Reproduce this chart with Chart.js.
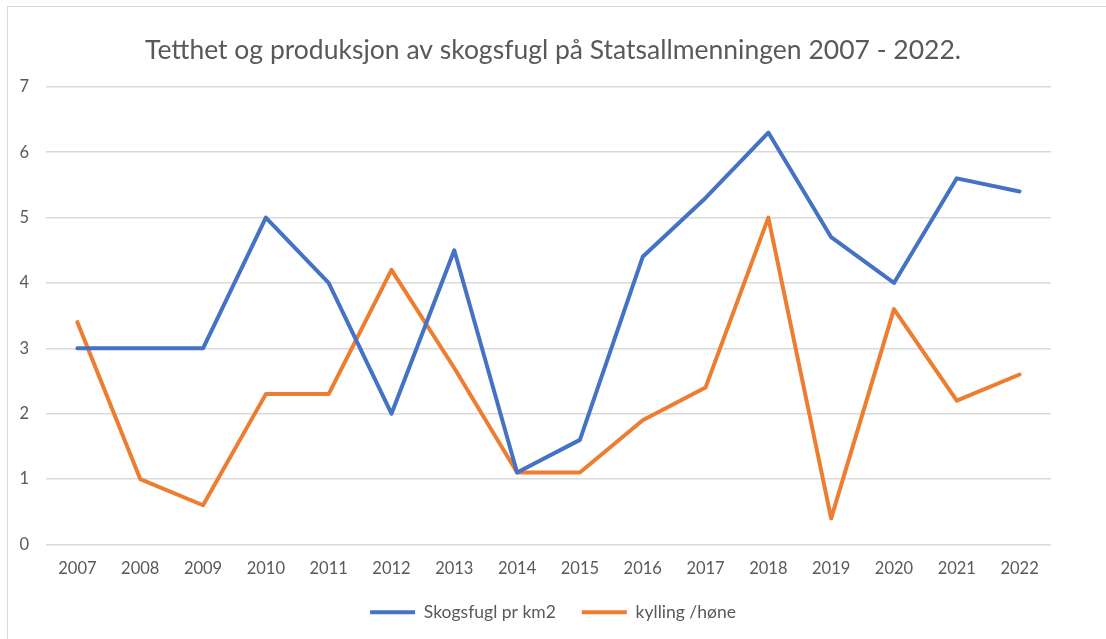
<!DOCTYPE html>
<html>
<head>
<meta charset="utf-8">
<script src="https://cdn.jsdelivr.net/npm/chart.js@4"></script>
<style>
  html, body { margin: 0; padding: 0; background: #fff; overflow: hidden; }
  #wrap { position: relative; width: 1106px; height: 639px; }
  #frame { position: absolute; left: 7px; top: 6px; width: 1120px; height: 660px; border: 1px solid #d9d9d9; }
  canvas { position: absolute; left: 0; top: 0; }
</style>
</head>
<body>
<div id="wrap">
  <div id="frame"></div>
  <canvas id="myChart" width="1106" height="639"></canvas>
</div>
<script>
// Kategorier (år) og verdier
const years = ['2007', '2008', '2009', '2010', '2011', '2012', '2013', '2014',
  '2015', '2016', '2017', '2018', '2019', '2020', '2021', '2022']
const skogsfugl = [3, 3, 3, 5, 4, 2, 4.5, 1.1, 1.6, 4.4, 5.3, 6.3, 4.7, 4.0, 5.6, 5.4]
const kylling = [3.4, 1.0, 0.6, 2.3, 2.3, 4.2, 2.7, 1.1, 1.1, 1.9, 2.4, 5.0, 0.4, 3.6, 2.2, 2.6]
const yTicks = [0, 1, 2, 3, 4, 5, 6, 7]

const blue = '#4472c4'
const orange = '#ed7d31'
const textColor = '#595959'
const gridColor = '#d9d9d9'
const fontName = 'Lato'

var ctx = document.getElementById('myChart')

var data = {
  labels: years,
  datasets: [
    {
      label: 'Skogsfugl pr km2',
      data: skogsfugl,
      borderColor: blue,
      backgroundColor: blue,
      borderWidth: 4,
      pointRadius: 0,
      tension: 0,
      borderCapStyle: 'round',
      borderJoinStyle: 'round',
    },
    {
      label: 'kylling /høne',
      data: kylling,
      borderColor: orange,
      backgroundColor: orange,
      borderWidth: 4,
      pointRadius: 0,
      tension: 0,
      borderCapStyle: 'round',
      borderJoinStyle: 'round',
    }
  ]
}

var lineChart = new Chart(ctx, {
  type: 'line',
  data: data,
  options: {
    responsive: false,
    animation: false,
    layout: { padding: { left: 0, right: 0, top: 0, bottom: 8 } },
    plugins: {
      title: {
        display: true,
        text: 'Tetthet og produksjon av skogsfugl på Statsallmenningen 2007 - 2022.',
        color: textColor,
        font: { family: fontName, size: 26.5, weight: 'normal' },
        padding: { top: 35, bottom: 20 },
      },
      legend: {
        position: 'bottom',
        labels: {
          color: textColor,
          font: { family: fontName, size: 17.5 },
          boxWidth: 45,
          boxHeight: 4,
          padding: 26,
          generateLabels: function(chart) {
            var items = Chart.defaults.plugins.legend.labels.generateLabels(chart)
            items.forEach(function(it) { it.lineWidth = 0 })
            return items
          }
        }
      },
      tooltip: { enabled: false }
    },
    scales: {
      x: {
        offset: true,
        afterFit: function(scale) { scale.height = 33 },
        grid: { display: false, drawTicks: false },
        border: { display: false },
        ticks: { color: textColor, font: { family: fontName, size: 16.5 }, padding: 14, maxRotation: 0 }
      },
      y: {
        min: 0,
        max: 7,
        afterFit: function(scale) { scale.width = 46 },
        afterBuildTicks: function(scale) { scale.ticks = yTicks.map(function(v) { return { value: v } }) },
        grid: { color: gridColor, lineWidth: 1.5, drawTicks: false },
        border: { display: false },
        ticks: { color: textColor, font: { family: fontName, size: 16.5 }, padding: 17 }
      },
      // tom akse til høyre, bare for å gi plass
      y2: {
        type: 'linear',
        position: 'right',
        afterFit: function(scale) { scale.width = 55 },
        grid: { display: false },
        border: { display: false },
        ticks: { display: false }
      }
    }
  }
})
</script>
</body>
</html>
